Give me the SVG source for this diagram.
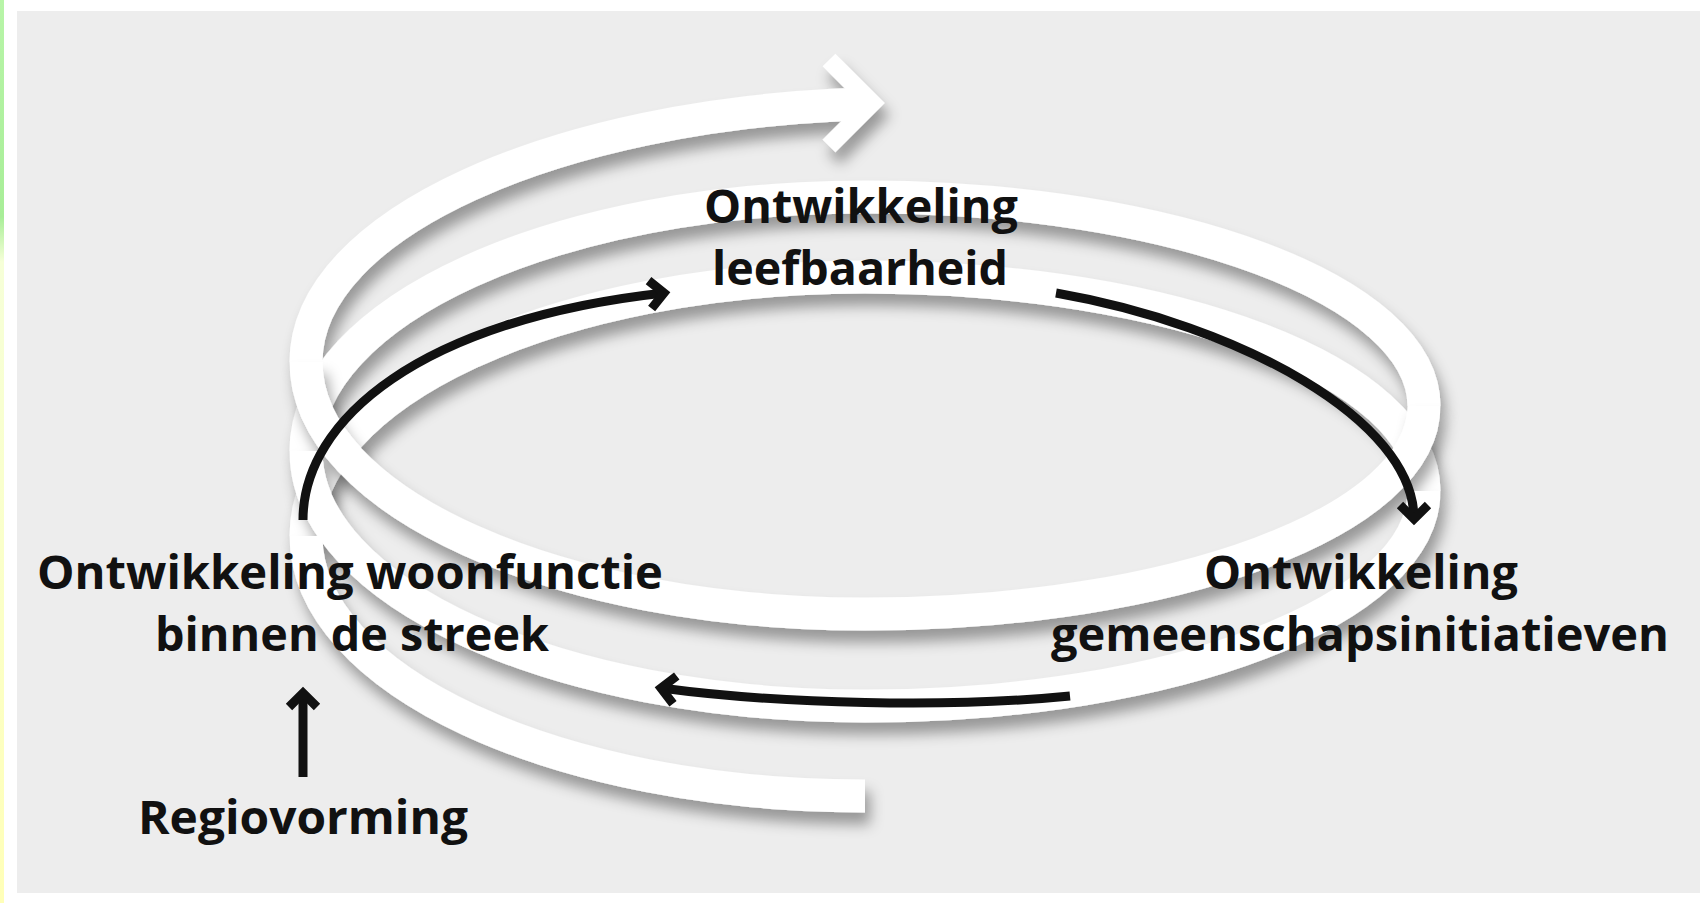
<svg xmlns="http://www.w3.org/2000/svg" width="1704" height="903" viewBox="0 0 1704 903">
  <defs>
    <linearGradient id="strip" x1="0" y1="0" x2="0" y2="1">
      <stop offset="0" stop-color="#b8f5a8"/>
      <stop offset="0.24" stop-color="#a8ee98"/>
      <stop offset="0.29" stop-color="#f6ffd8"/>
      <stop offset="1" stop-color="#ffffb8"/>
    </linearGradient>
    <filter id="shadow" filterUnits="userSpaceOnUse" x="0" y="0" width="1704" height="903">
      <feGaussianBlur in="SourceAlpha" stdDeviation="7"/>
      <feOffset dx="5" dy="12" result="blur"/>
      <feFlood flood-color="#000000" flood-opacity="0.36"/>
      <feComposite in2="blur" operator="in"/>
      <feMerge>
        <feMergeNode/>
        <feMergeNode in="SourceGraphic"/>
      </feMerge>
    </filter>
    <marker id="ah" markerUnits="userSpaceOnUse" viewBox="-20 -20 40 40" markerWidth="40" markerHeight="40" refX="0" refY="0" orient="auto" overflow="visible">
      <path d="M-14,-14 L0,0 L-14,14" fill="none" stroke="#111111" stroke-width="9" stroke-linejoin="miter"/>
    </marker>
    <style>
      .band { fill: none; stroke: #ffffff; stroke-width: 33; stroke-linecap: butt; }
      .head { fill: none; stroke: #ffffff; stroke-width: 18; stroke-linejoin: miter; stroke-linecap: butt; }
      .conn { fill: none; stroke: #111111; stroke-width: 9; stroke-linecap: butt; marker-end: url(#ah); }
      .lbl { font-family: "Open Sans", "Noto Sans", "Liberation Sans", sans-serif; font-weight: 700; font-size: 46px; fill: #111111; }
    </style>
  </defs>

  <!-- background -->
  <rect x="0" y="0" width="1704" height="903" fill="#ffffff"/>
  <rect x="0" y="0" width="4" height="903" fill="url(#strip)"/>
  <rect x="17" y="11" width="1683" height="882" fill="#ededed"/>

  <!-- spiral ribbon -->
  <g id="spiral">
    <g id="spiral-back" filter="url(#shadow)">
      <path class="band" d="M306,536 C306,393 556,277 865,277 C1174,277 1424,373 1424,491"/>
      <path class="band" d="M306,451 C306,311 556,197 865,197 C1174,197 1424,291 1424,406"/>
      <path class="band" d="M306,362 C306,224 556,114 860,104"/>
      <path class="head" d="M829,60 L872,103 L829,146"/>
    </g>
    <g id="spiral-front" filter="url(#shadow)">
      <path class="band" d="M865,796 C556,796 306,680 306,536"/>
      <path class="band" d="M1424,491 C1424,610 1174,706 865,706 C556,706 306,592 306,451"/>
      <path class="band" d="M1424,406 C1424,521 1174,614 865,614 C556,614 306,501 306,362"/>
    </g>
  </g>

  <!-- connectors -->
  <g id="connectors">
    <path class="conn" d="M303,520 C303,420 420,320 664,293"/>
    <path class="conn" d="M1056,293 C1240,325 1414,420 1414,519"/>
    <path class="conn" d="M1070,696 C950,708 780,704 661,688"/>
    <path class="conn" d="M303,777 L303,693"/>
  </g>

  <!-- nodes -->
  <g id="node-leefbaarheid">
    <text class="lbl" x="704" y="223" textLength="314" lengthAdjust="spacingAndGlyphs">Ontwikkeling</text>
    <text class="lbl" x="712" y="285" textLength="296" lengthAdjust="spacingAndGlyphs">leefbaarheid</text>
  </g>
  <g id="node-gemeenschap">
    <text class="lbl" x="1204" y="589" textLength="314" lengthAdjust="spacingAndGlyphs">Ontwikkeling</text>
    <text class="lbl" x="1051" y="651" textLength="618" lengthAdjust="spacingAndGlyphs">gemeenschapsinitiatieven</text>
  </g>
  <g id="node-woonfunctie">
    <text class="lbl" x="37" y="589" textLength="626" lengthAdjust="spacingAndGlyphs">Ontwikkeling woonfunctie</text>
    <text class="lbl" x="155" y="651" textLength="394" lengthAdjust="spacingAndGlyphs">binnen de streek</text>
  </g>
  <g id="node-regio">
    <text class="lbl" x="138" y="834" textLength="330" lengthAdjust="spacingAndGlyphs">Regiovorming</text>
  </g>
</svg>
